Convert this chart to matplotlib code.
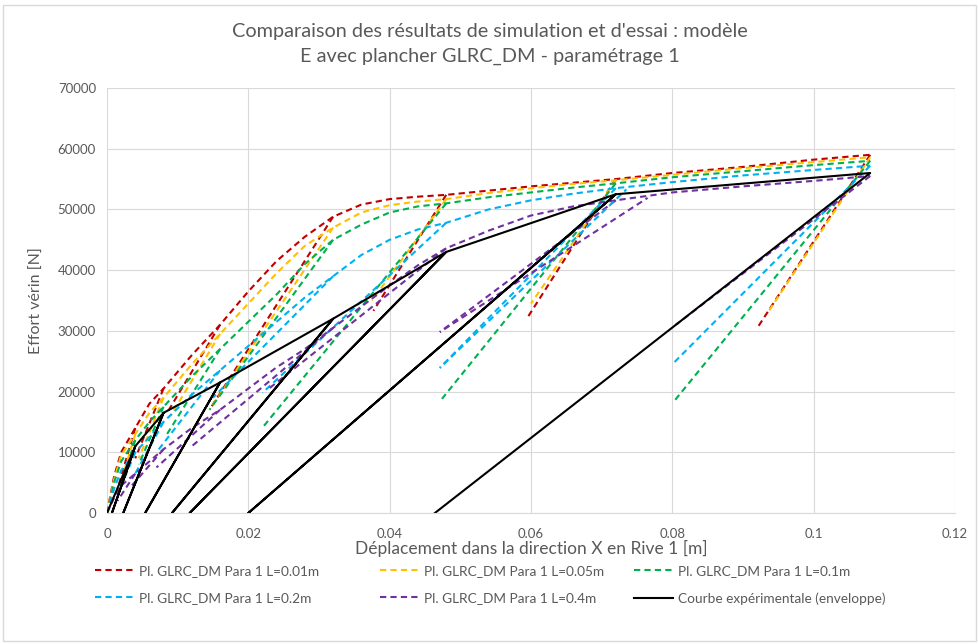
import matplotlib
matplotlib.use('Agg')
import matplotlib.pyplot as plt
from matplotlib.patches import Rectangle

# envelope of each curve (loading branch)
x_l001 = [0, 0.001, 0.002, 0.004, 0.006, 0.008, 0.012, 0.016, 0.020, 0.024, 0.028, 0.032, 0.036, 0.040,
          0.044, 0.048, 0.054, 0.060, 0.066, 0.072, 0.080, 0.090, 0.100, 0.108]
y_l001 = [0, 6000, 10000, 14000, 18000, 20500, 26000, 31000, 36500, 41500, 45500, 48800, 50800, 51700,
          52100, 52400, 53100, 53800, 54400, 55000, 56000, 57000, 58200, 59000]
y_l005 = [0, 5500, 9500, 13000, 16500, 19000, 24500, 29500, 34500, 39500, 44000, 47000, 49500, 50700,
          51300, 51700, 52700, 53500, 54200, 54800, 55700, 56800, 57800, 58600]
y_l01 = [0, 5000, 8500, 12000, 15000, 17500, 22500, 27000, 31500, 36000, 41000, 45000, 47500, 49500,
         50500, 51000, 52000, 52800, 53600, 54300, 55300, 56300, 57300, 58000]
y_l02 = [0, 4000, 7000, 10000, 12500, 15000, 19500, 23500, 27500, 31500, 35500, 39000, 42500, 45000,
         46700, 47800, 50000, 51500, 52600, 53500, 54500, 55600, 56500, 57200]
y_l04 = [0, 2500, 4500, 6500, 8500, 10500, 14000, 17000, 20500, 24000, 27000, 30500, 34000, 37500,
         40800, 43600, 46500, 49000, 50500, 51500, 52800, 53800, 54700, 55500]

# unloading cycles: peak displacement and end point of each unloading branch
x_peaks = [0.004, 0.008, 0.016, 0.032, 0.048, 0.072, 0.108]
xu_l001 = [0.0015, 0.004, 0.0085, 0.0145, 0.0377, 0.0594, 0.0922]
yu_l001 = [4000, 9000, 16500, 17000, 33300, 32000, 30800]
xu_l005 = [0.0018, 0.0045, 0.009, 0.0148, 0.0375, 0.0600, 0.0935]
yu_l005 = [4500, 9000, 16000, 17500, 35000, 34500, 33000]
xu_l01 = [0.0018, 0.0045, 0.0085, 0.0145, 0.0221, 0.0474, 0.0801]
yu_l01 = [4000, 8000, 13000, 17000, 14200, 18800, 18200]
xu_l02 = [0.0015, 0.004, 0.007, 0.0150, 0.0220, 0.0471, 0.0800]
yu_l02 = [3000, 6500, 10000, 19000, 19800, 23900, 24500]
xu_l04 = [0.0015, 0.0035, 0.007, 0.0120, 0.0226, 0.0471, 0.0805]
yu_l04 = [2000, 4500, 7500, 11000, 20200, 29800, 31000]

# reloading branches that rejoin the envelope (drawn over the unloading branch)
xr_l02 = [0.0471, 0.0735]
yr_l02 = [23900, 53300]
xr_l04 = [0.0471, 0.0765]
yr_l04 = [29800, 51900]

x_exp = [0, 0.004, 0.0007, 0.004, 0.008, 0.0023, 0.008, 0.016, 0.0054, 0.016, 0.032, 0.0092, 0.032,
         0.048, 0.0117, 0.048, 0.072, 0.020, 0.072, 0.108, 0.0464]
y_exp = [0, 11000, 0, 11000, 16500, 0, 16500, 21500, 0, 21500, 32000, 0, 32000,
         43000, 0, 43000, 52500, 0, 52500, 56000, 0]

labels = ['Pl. GLRC_DM Para 1 L=0.01m', 'Pl. GLRC_DM Para 1 L=0.05m', 'Pl. GLRC_DM Para 1 L=0.1m',
          'Pl. GLRC_DM Para 1 L=0.2m', 'Pl. GLRC_DM Para 1 L=0.4m', 'Courbe expérimentale (enveloppe)']
colors = ['#C00000', '#FFC000', '#00B050', '#00B0F0', '#7030A0', 'black']

x_ticks = [0, 0.02, 0.04, 0.06, 0.08, 0.1, 0.12]
y_ticks = [0, 10000, 20000, 30000, 40000, 50000, 60000, 70000]

plt.rcParams['font.family'] = ['Lato', 'DejaVu Sans']
txt = '#595959'
dash = (0, (3, 2))

fig = plt.figure(figsize=(9.79, 6.44), dpi=100)
ax = fig.add_axes([107 / 979, 1 - 513 / 644, 848 / 979, 425 / 644])

sims = [(y_l001, xu_l001, yu_l001), (y_l005, xu_l005, yu_l005), (y_l01, xu_l01, yu_l01),
        (y_l02, xu_l02, yu_l02), (y_l04, xu_l04, yu_l04)]
handles = []
for (ys, xu, yu), c, lab in zip(sims, colors[:5], labels[:5]):
    h, = ax.plot(x_l001, ys, color=c, lw=1.5, linestyle=dash, label=lab)
    handles.append(h)
    for xp, xl, yl in zip(x_peaks, xu, yu):
        yp = ys[x_l001.index(xp)]
        ax.plot([xp, xl], [yp, yl], color=c, lw=1.5, linestyle=dash)
ax.plot(xr_l02, yr_l02, color=colors[3], lw=1.5, linestyle=(2.5, (3, 2)))
ax.plot(xr_l04, yr_l04, color=colors[4], lw=1.5, linestyle=(2.5, (3, 2)))
h, = ax.plot(x_exp, y_exp, color='black', lw=1.5, label=labels[5])
handles.append(h)

ax.set_xlim(0, 0.12)
ax.set_ylim(0, 70000)
ax.set_xticks(x_ticks)
ax.set_xticklabels(['0', '0.02', '0.04', '0.06', '0.08', '0.1', '0.12'])
ax.set_yticks(y_ticks)
ax.grid(True, color='#d9d9d9', lw=0.8)
ax.set_axisbelow(True)
for s in ['top', 'right', 'left']:
    ax.spines[s].set_visible(False)
ax.spines['bottom'].set_color('#d9d9d9')
ax.tick_params(length=0, labelsize=9.5, colors=txt)
ax.tick_params(axis='x', pad=11)
ax.tick_params(axis='y', pad=8)

ax.set_xlabel('Déplacement dans la direction X en Rive 1 [m]', fontsize=12.5, color=txt, labelpad=0)
ax.set_ylabel('Effort vérin [N]', fontsize=11.5, color=txt, labelpad=10)
fig.text(0.5, 1 - 31 / 644, "Comparaison des résultats de simulation et d'essai : modèle",
         ha='center', va='center', fontsize=14.3, color=txt)
fig.text(0.5, 1 - 56 / 644, 'E avec plancher GLRC_DM - paramétrage 1',
         ha='center', va='center', fontsize=14.3, color=txt)

# one legend per column so the columns sit where the original has them
col_x = [95, 380, 634]
for k, x0 in enumerate(col_x):
    leg = fig.legend([handles[k], handles[k + 3]], [labels[k], labels[k + 3]],
                     loc='upper left', bbox_to_anchor=(x0 / 979, 1 - 565 / 644),
                     frameon=False, fontsize=9.8, handlelength=2.9, borderpad=0,
                     borderaxespad=0, handletextpad=0.3, labelspacing=1.1)
    for t in leg.get_texts():
        t.set_color(txt)

fig.patches.append(Rectangle((3 / 979, 3 / 644), 973 / 979, 636 / 644, transform=fig.transFigure,
                             fill=False, edgecolor='#d9d9d9', lw=1))

fig.savefig('out.png', dpi=100)
